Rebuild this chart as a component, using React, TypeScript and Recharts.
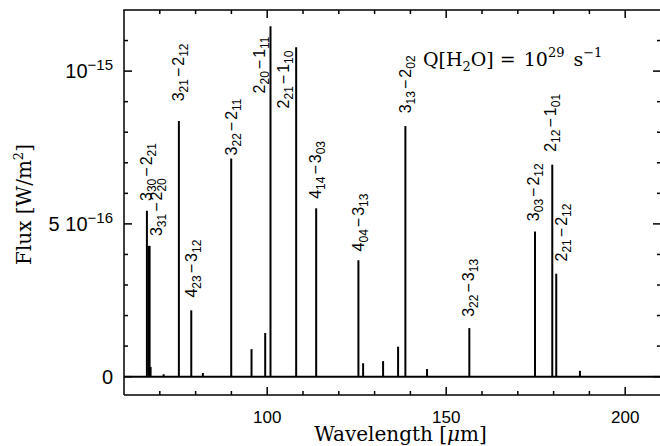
import React from 'react';
import { ComposedChart, XAxis, YAxis, Scatter, ReferenceLine, Label } from 'recharts';

// Spectral lines: wavelength [µm] and flux [1e-16 W/m^2]
const lineWavelengths = [66.40, 66.95, 67.15, 67.43, 71.06, 75.33, 78.79, 82.03, 89.95, 95.62, 99.44, 100.92, 108.09, 113.68, 125.48, 126.79, 132.37, 136.56, 138.60, 144.65, 156.46, 174.80, 179.63, 180.74, 187.36];
const lineFluxes = [5.43, 4.28, 4.28, 0.32, 0.08, 8.37, 2.17, 0.12, 7.14, 0.90, 1.43, 11.47, 10.78, 5.51, 3.81, 0.44, 0.51, 0.98, 8.20, 0.25, 1.59, 4.75, 6.94, 3.37, 0.19];

// Transition labels (upper level, its subscript, lower level, its subscript) and anchors in data units
const labelUpper = ['3', '3', '3', '4', '3', '2', '2', '4', '4', '3', '3', '3', '2', '2'];
const labelUpperSub = ['30', '31', '21', '23', '22', '20', '21', '14', '04', '13', '22', '03', '12', '21'];
const labelLower = ['2', '2', '2', '3', '2', '1', '1', '3', '3', '2', '3', '2', '1', '2'];
const labelLowerSub = ['21', '20', '12', '12', '11', '11', '10', '03', '13', '02', '13', '12', '01', '12'];
const labelWavelengths = [67.71, 70.5, 76.64, 80.27, 91.43, 99.25, 106.22, 115.15, 127.16, 140.27, 157.86, 175.99, 180.73, 183.8];
const labelFluxes = [5.75, 4.6, 9.01, 2.59, 7.24, 9.27, 8.78, 5.82, 4.1, 8.62, 1.96, 5.09, 7.36, 3.77];

// Axes
const xMin = 60;
const xMax = 210;
const xTicks = [60, 70, 80, 90, 100, 110, 120, 130, 140, 150, 160, 170, 180, 190, 200, 210];
const xMajorTicks = [100, 150, 200];
const yMin = -0.6;
const yMax = 12;
const yTicks = [0, 1, 2, 3, 4, 5, 6, 7, 8, 9, 10, 11, 12];
const yMajorTicks = [0, 5, 10];

// Annotation
const noteText = { species: 'H', speciesSub: '2', rate: '10', rateExp: '29', unit: 's', unitExp: '−1' };
const notePoint = [{ x: 143.5, y: 10.16 }];

const lineData = lineWavelengths.map((x, i) => ({ x, y: lineFluxes[i] }));
const labelData = labelWavelengths.map((x, i) => ({
  x,
  y: labelFluxes[i],
  up: labelUpper[i],
  upSub: labelUpperSub[i],
  lo: labelLower[i],
  loSub: labelLowerSub[i],
}));

const SANS = "'Liberation Sans', Arial, Helvetica, sans-serif";
const SERIF = "'DejaVu Serif', serif";

// layout (pixels)
const CHART_W = 662;
const CHART_H = 446;
const M_TOP = 10;
const M_RIGHT = 1;
const Y_AXIS_W = 124;
const X_AXIS_H = 51;
const PLOT_W = CHART_W - M_RIGHT - Y_AXIS_W;
const PLOT_H = CHART_H - M_TOP - X_AXIS_H;
const PX_PER_X = PLOT_W / (xMax - xMin);
const PX_PER_Y = PLOT_H / (yMax - yMin);
const MINOR_LEN = 4;
const MAJOR_LEN = 8;

const xPx = (v: number) => Y_AXIS_W + (v - xMin) * PX_PER_X;
const yPx = (v: number) => M_TOP + (yMax - v) * PX_PER_Y;

const BottomTick = (props: any) => {
  const x = Number(props.x);
  const y = Number(props.y);
  const v = props.payload.value;
  if (!xMajorTicks.includes(v)) return <g />;
  return (
    <text x={x} y={y + 28} textAnchor="middle" fontFamily={SANS} fontSize={17} fill="#000">
      {v}
    </text>
  );
};

const LeftTick = (props: any) => {
  const x = Number(props.x);
  const y = Number(props.y);
  const v = props.payload.value;
  let label: React.ReactNode = null;
  if (v === 0) {
    label = <>0</>;
  } else if (v === 5) {
    label = (
      <>
        5 10<tspan dy={-8} fontSize={15}>−16</tspan>
      </>
    );
  } else if (v === 10) {
    label = (
      <>
        10<tspan dy={-8} fontSize={15}>−15</tspan>
      </>
    );
  }
  if (!label) return <g />;
  return (
    <text x={x - 11} y={y + 7} textAnchor="end" fontFamily={SANS} fontSize={20} fill="#000">
      {label}
    </text>
  );
};

const LineLabel = (props: any) => {
  const { cx, cy, payload } = props;
  if (cx == null || cy == null) return <g />;
  return (
    <text transform={`rotate(-90 ${cx} ${cy})`} x={cx} y={cy} fontFamily={SANS} fontSize={16} fill="#000">
      {payload.up}
      <tspan fontSize={12} dy={4}>{payload.upSub}</tspan>
      <tspan dy={-4} dx={2}>−</tspan>
      <tspan dx={2}>{payload.lo}</tspan>
      <tspan fontSize={12} dy={4}>{payload.loSub}</tspan>
    </text>
  );
};

const NoteShape = (props: any) => {
  const { cx, cy } = props;
  if (cx == null || cy == null) return <g />;
  return (
    <text x={cx} y={cy} fontFamily={SERIF} fontSize={19} fill="#000">
      Q[{noteText.species}
      <tspan dy={5} fontSize={13}>{noteText.speciesSub}</tspan>
      <tspan dy={-5}>O]</tspan>
      <tspan dx={6}>=</tspan>
      <tspan dx={8}>{noteText.rate}</tspan>
      <tspan dy={-9} fontSize={13}>{noteText.rateExp}</tspan>
      <tspan dy={9} dx={9}>{noteText.unit}</tspan>
      <tspan dy={-9} fontSize={13}>{noteText.unitExp}</tspan>
    </text>
  );
};

const XTitle = (props: any) => {
  const vb = props.viewBox || { x: Y_AXIS_W, y: M_TOP + PLOT_H, width: PLOT_W, height: X_AXIS_H };
  return (
    <text x={vb.x + vb.width / 2 + 8} y={vb.y + 46} textAnchor="middle" fontFamily={SERIF} fontSize={20} fill="#000">
      Wavelength [<tspan fontStyle="italic">μ</tspan>m]
    </text>
  );
};

const YTitle = (props: any) => {
  const vb = props.viewBox || { x: 0, y: M_TOP, width: Y_AXIS_W, height: PLOT_H };
  const cx = 31;
  const cy = vb.y + vb.height / 2 + 2;
  return (
    <text transform={`rotate(-90 ${cx} ${cy})`} x={cx} y={cy} textAnchor="middle" fontFamily={SERIF} fontSize={20} fill="#000">
      Flux [W/m<tspan dy={-8} fontSize={13}>2</tspan>
      <tspan dy={8}>]</tspan>
    </text>
  );
};

// Frame decoration: top edge and inward tick marks on all four sides
const FrameOverlay = () => {
  const top = yPx(yMax);
  const bottom = yPx(yMin);
  const left = xPx(xMin);
  const right = xPx(xMax);
  const innerX = xTicks.filter((v) => v > xMin && v < xMax);
  const innerY = yTicks.filter((v) => v > yMin && v < yMax);
  const lenX = (v: number) => (xMajorTicks.includes(v) ? MAJOR_LEN : MINOR_LEN);
  const lenY = (v: number) => (yMajorTicks.includes(v) ? MAJOR_LEN : MINOR_LEN);
  return (
    <svg
      width={660}
      height={446}
      style={{ position: 'absolute', left: 0, top: 0, pointerEvents: 'none' }}
    >
      <rect x={left - 0.75} y={top - 0.75} width={right - left + 1.5} height={1.5} fill="#000" />
      {innerX.map((v) => (
        <g key={`x${v}`}>
          <rect x={xPx(v) - 0.75} y={bottom - lenX(v)} width={1.5} height={lenX(v)} fill="#000" />
          <rect x={xPx(v) - 0.75} y={top} width={1.5} height={lenX(v)} fill="#000" />
        </g>
      ))}
      {innerY.map((v) => (
        <g key={`y${v}`}>
          <rect x={left} y={yPx(v) - 0.75} width={lenY(v)} height={1.5} fill="#000" />
          <rect x={right - lenY(v)} y={yPx(v) - 0.75} width={lenY(v)} height={1.5} fill="#000" />
        </g>
      ))}
    </svg>
  );
};

export default function App() {
  return (
    <div style={{ position: 'absolute', left: 0, top: 0, width: 660, height: 446, overflow: 'hidden', background: '#fff' }}>
      <ComposedChart width={CHART_W} height={CHART_H} margin={{ top: M_TOP, right: M_RIGHT, bottom: 0, left: 0 }}>
        <XAxis
          xAxisId="b"
          type="number"
          dataKey="x"
          domain={[xMin, xMax]}
          ticks={xTicks}
          interval={0}
          height={X_AXIS_H}
          tickSize={0}
          tickMargin={0}
          tickLine={false}
          axisLine={{ stroke: '#000', strokeWidth: 1.5 }}
          tick={<BottomTick />}
        >
          <Label content={<XTitle />} />
        </XAxis>
        <YAxis
          yAxisId="l"
          type="number"
          dataKey="y"
          domain={[yMin, yMax]}
          ticks={yTicks}
          interval={0}
          width={Y_AXIS_W}
          tickSize={0}
          tickMargin={0}
          tickLine={false}
          axisLine={{ stroke: '#000', strokeWidth: 1.5 }}
          tick={<LeftTick />}
        >
          <Label content={<YTitle />} />
        </YAxis>

        {/* zero level */}
        <ReferenceLine xAxisId="b" yAxisId="l" y={0} stroke="#000" strokeWidth={2} ifOverflow="visible" />

        {/* spectral lines */}
        {lineData.map((d, i) => (
          <ReferenceLine
            key={`ln${i}`}
            xAxisId="b"
            yAxisId="l"
            ifOverflow="visible"
            stroke="#000"
            strokeWidth={2}
            segment={[{ x: d.x, y: 0 }, { x: d.x, y: d.y }]}
          />
        ))}

        <Scatter xAxisId="b" yAxisId="l" data={labelData} isAnimationActive={false} shape={(p: any) => <LineLabel {...p} />} />
        <Scatter xAxisId="b" yAxisId="l" data={notePoint} isAnimationActive={false} shape={(p: any) => <NoteShape {...p} />} />
      </ComposedChart>
      <FrameOverlay />
    </div>
  );
}
